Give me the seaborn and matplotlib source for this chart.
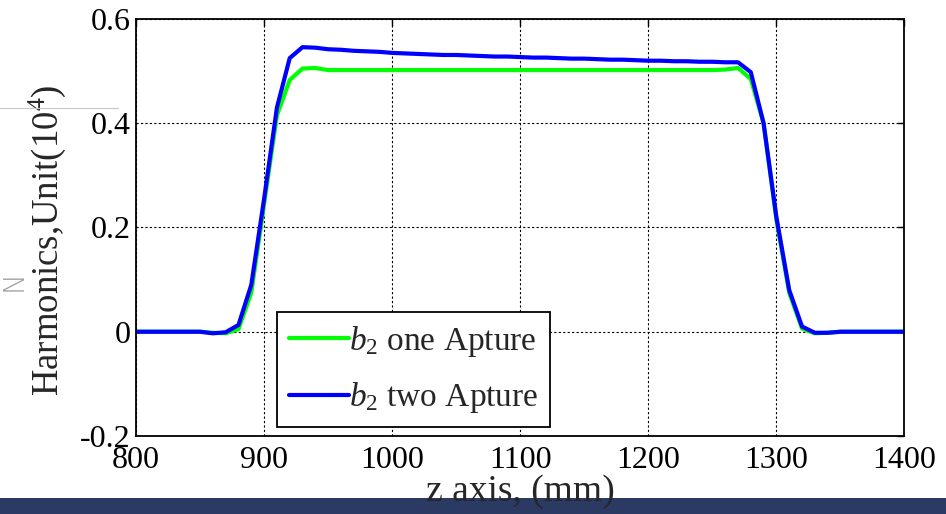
import matplotlib
matplotlib.use("Agg")
import pandas as pd
import matplotlib.pyplot as plt
import seaborn as sns
from matplotlib.patches import Rectangle
from matplotlib.lines import Line2D

# z positions along the magnet (mm), one sample every 10 mm
z_mm = list(range(800, 1410, 10))

# b2 harmonic, one aperture model (units of 1e-4)
b2_one = [0, 0, 0, 0, 0, 0, -0.002, -0.003, 0.005, 0.075,
          0.245, 0.415, 0.483, 0.505, 0.506, 0.502,
          0.502, 0.502, 0.502, 0.502, 0.502, 0.502, 0.502, 0.502, 0.502, 0.502,
          0.502, 0.502, 0.502, 0.502, 0.502, 0.502, 0.502, 0.502, 0.502, 0.502,
          0.502, 0.502, 0.502, 0.502, 0.502, 0.502, 0.502, 0.502, 0.502, 0.502,
          0.503, 0.506, 0.485, 0.40, 0.215, 0.075, 0.006, -0.003, -0.002, 0,
          0, 0, 0, 0, 0]

# b2 harmonic, two aperture model
b2_two = [0, 0, 0, 0, 0, 0, -0.003, -0.001, 0.013, 0.09,
          0.255, 0.43, 0.525, 0.546, 0.545, 0.542,
          0.541, 0.539, 0.538, 0.537, 0.535, 0.534, 0.533, 0.532, 0.531, 0.531,
          0.530, 0.529, 0.528, 0.528, 0.527, 0.526, 0.526, 0.525, 0.524, 0.524,
          0.523, 0.522, 0.522, 0.521, 0.520, 0.520, 0.519, 0.519, 0.518, 0.518,
          0.517, 0.517, 0.498, 0.40, 0.22, 0.08, 0.01, -0.002, -0.002, 0,
          0, 0, 0, 0, 0]

series_names = ["$b_2$ one Apture", "$b_2$ two Apture"]
series_colors = ["#00ff00", "#0000ff"]

x_ticks = [800, 900, 1000, 1100, 1200, 1300, 1400]
y_ticks = [-0.2, 0, 0.2, 0.4, 0.6]
y_tick_labels = ["-0.2", "0", "0.2", "0.4", "0.6"]

df = pd.concat([
    pd.DataFrame({"z": z_mm, "b2": b2_one, "series": series_names[0]}),
    pd.DataFrame({"z": z_mm, "b2": b2_two, "series": series_names[1]}),
])

sns.set_style("white")
plt.rcParams["font.family"] = ["Liberation Serif", "DejaVu Serif"]
plt.rcParams["mathtext.fontset"] = "custom"
plt.rcParams["mathtext.rm"] = "Liberation Serif"
plt.rcParams["mathtext.it"] = "Liberation Serif:italic"

fig = plt.figure(figsize=(9.46, 5.14), dpi=100)
ax = fig.add_axes([0.1438, 0.1518, 0.9561 - 0.1438, 0.963 - 0.1518])

sns.lineplot(data=df, x="z", y="b2", hue="series", hue_order=series_names,
             palette=dict(zip(series_names, series_colors)), sort=False,
             linewidth=3, ax=ax, legend=False)

ax.set_xlim(800, 1400)
ax.set_ylim(-0.2, 0.6)
ax.set_xticks(x_ticks)
ax.set_xticklabels([str(t) for t in x_ticks])
ax.set_yticks(y_ticks)
ax.set_yticklabels(y_tick_labels)
ax.grid(True, color="black", linestyle=(0, (2, 2)), linewidth=0.8)
ax.tick_params(direction="in", length=5, width=1, top=True, right=True,
               labelsize=23, colors="black")
ax.tick_params(axis="x", pad=7)
ax.tick_params(axis="y", pad=4)
for s in ax.spines.values():
    s.set_color("black")
    s.set_linewidth(1.3)

ax.set_xlabel("z axis, (mm)", fontsize=27, labelpad=0)
ax.set_ylabel("Harmonics,Unit(10$^{4}$)", fontsize=26.5)
ax.yaxis.set_label_coords(-0.088, 0.47)

handles = [Line2D([], [], color=c, lw=3) for c in series_colors]
leg = ax.legend(handles, series_names, loc="lower left",
                bbox_to_anchor=(0.1835, 0.0216), borderaxespad=0,
                fancybox=False, edgecolor="black", framealpha=1,
                handlelength=1.8, handletextpad=0.0, labelspacing=0.65,
                borderpad=0.35, fontsize=24)
leg.get_frame().set_linewidth(1.3)
leg.set_zorder(5)

# bits of the surrounding slide that show in the crop
fig.add_artist(Rectangle((0, 0), 1, 16 / 514, transform=fig.transFigure,
                         facecolor="#2a3a63", edgecolor="none", zorder=-1))
fig.add_artist(Line2D([0, 118 / 946], [1 - 108 / 514, 1 - 108 / 514],
                      transform=fig.transFigure, color="#c8c8c8", lw=0.8))
fig.text(14 / 946, 1 - 281 / 514, "N", rotation=90, color="#a0a0a0",
         fontsize=20, ha="center", va="center", family="DejaVu Sans",
         fontweight="light")

fig.savefig("out.png", dpi=100)
